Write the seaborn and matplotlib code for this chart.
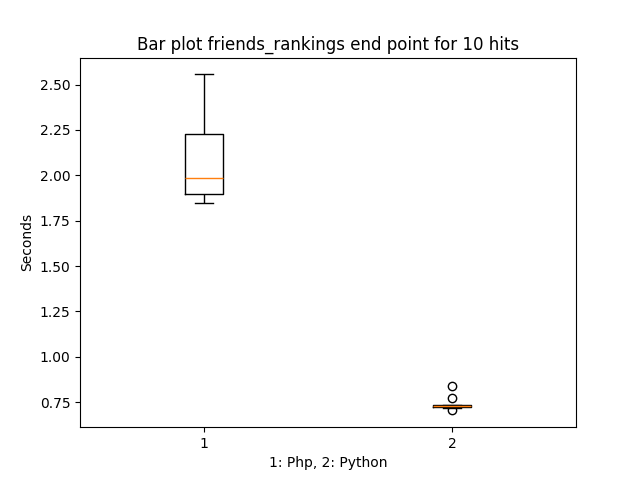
import matplotlib
matplotlib.use("Agg")
import matplotlib.pyplot as plt
import pandas as pd
import seaborn as sns

php_times = [1.846, 1.87, 1.89, 1.91, 1.97, 2.00, 2.15, 2.25, 2.40, 2.556]
python_times = [0.705, 0.72, 0.722, 0.724, 0.726, 0.728, 0.730, 0.733, 0.772, 0.838]
groups = ["1", "2"]

df = pd.DataFrame({
    "grupo": [groups[0]] * len(php_times) + [groups[1]] * len(python_times),
    "segundos": php_times + python_times,
})

fig, ax = plt.subplots(figsize=(6.4, 4.8), dpi=100)
sns.boxplot(
    data=df, x="grupo", y="segundos", ax=ax, width=0.15, fill=False,
    color="black", linewidth=1, whis=1.5,
    medianprops=dict(color="#ff7f0e"),
    flierprops=dict(marker="o", markerfacecolor="none", markeredgecolor="black", markersize=6),
)
ax.set_xlim(-0.5, 1.5)
ax.set_yticks([0.75, 1.0, 1.25, 1.5, 1.75, 2.0, 2.25, 2.5])
ax.set_xlabel("1: Php, 2: Python")
ax.set_ylabel("Seconds")
ax.set_title("Bar plot friends_rankings end point for 10 hits")
plt.savefig("out.png", dpi=100)
